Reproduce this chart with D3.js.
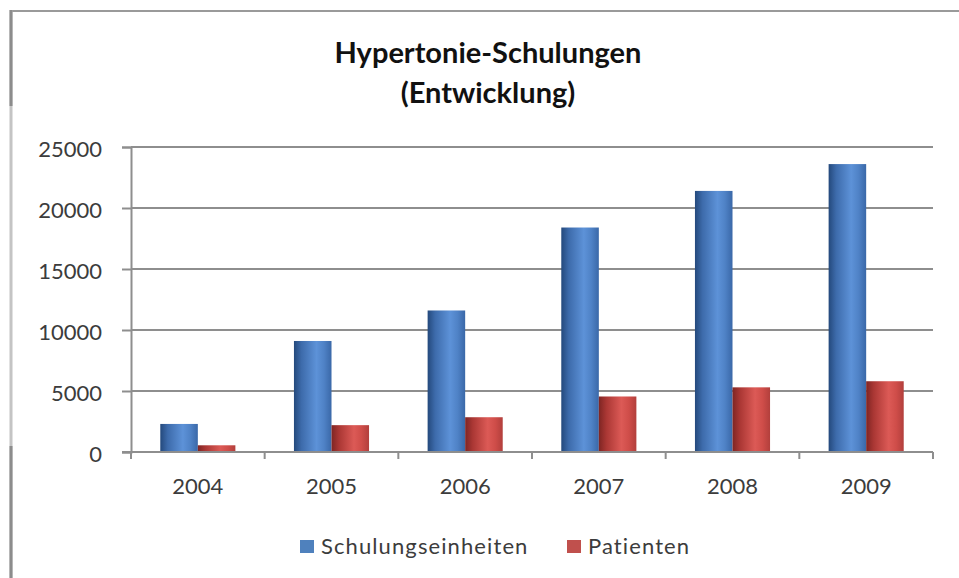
<!DOCTYPE html>
<html>
<head>
<meta charset="utf-8">
<script src="https://cdn.jsdelivr.net/npm/d3@7"></script>
<style>
  html, body { margin: 0; padding: 0; background: #fff; }
  svg { display: block; }
</style>
</head>
<body>
<div id="chart"></div>
<script>
const years = ['2004', '2005', '2006', '2007', '2008', '2009'];
const seriesNames = ['Schulungseinheiten', 'Patienten'];
const schulungseinheiten = [2300, 9100, 11600, 18400, 21400, 23600];
const patienten = [550, 2200, 2850, 4550, 5300, 5800];
const yTicks = [0, 5000, 10000, 15000, 20000, 25000];
const titleLines = ['Hypertonie-Schulungen', '(Entwicklung)'];

const width = 959, height = 578;
const plot = { left: 131, right: 933, top: 147, bottom: 452 };
const labelFont = 'Lato, "Open Sans", sans-serif';
const textColor = '#3c3c3c';

const svg = d3.select('#chart').append('svg')
  .attr('width', width)
  .attr('height', height);

// gradients for the 2007-style bars
const defs = svg.append('defs');
const gradStops = {
  blue: ['#24497c', '#3d6bab', '#5d92d8', '#4f82c6', '#3a68a8'],
  red: ['#7e2523', '#aa3734', '#dc5a56', '#cf4d49', '#b23f3c']
};
Object.keys(gradStops).forEach(k => {
  const g = defs.append('linearGradient')
    .attr('id', 'grad-' + k)
    .attr('x1', '0%').attr('x2', '100%')
    .attr('y1', '0%').attr('y2', '0%');
  const offs = [0, 0.2, 0.6, 0.8, 1];
  gradStops[k].forEach((c, i) => {
    g.append('stop').attr('offset', offs[i]).attr('stop-color', c);
  });
});

// outer frame (cropped screenshot border)
svg.append('line')
  .attr('x1', 10).attr('x2', width)
  .attr('y1', 11).attr('y2', 11)
  .attr('stroke', '#9a9a9a').attr('stroke-width', 2);
svg.append('line')
  .attr('x1', 11).attr('x2', 11)
  .attr('y1', 10).attr('y2', height)
  .attr('stroke', '#c4c4c4').attr('stroke-width', 3);
[[10, 106], [446, height]].forEach(seg => {
  svg.append('line')
    .attr('x1', 11).attr('x2', 11)
    .attr('y1', seg[0]).attr('y2', seg[1])
    .attr('stroke', '#8c8c8c').attr('stroke-width', 3);
});

// title
svg.append('g')
  .selectAll('text')
  .data(titleLines)
  .join('text')
  .attr('x', 488)
  .attr('y', (d, i) => 63 + i * 40)
  .attr('text-anchor', 'middle')
  .attr('fill', '#111')
  .style('font-family', labelFont)
  .style('font-weight', '700')
  .style('font-size', '29px')
  .text(d => d);

const x0 = d3.scaleBand()
  .domain(years)
  .range([plot.left, plot.right])
  .paddingInner(0)
  .paddingOuter(0);

const x1 = d3.scaleBand()
  .domain(seriesNames)
  .range([0, x0.bandwidth()])
  .paddingInner(0)
  .paddingOuter(0.78);

const y = d3.scaleLinear()
  .domain([0, 25000])
  .range([plot.bottom, plot.top]);

// gridlines
svg.append('g')
  .selectAll('line')
  .data(yTicks.filter(t => t > 0))
  .join('line')
  .attr('x1', plot.left)
  .attr('x2', plot.right)
  .attr('y1', d => y(d))
  .attr('y2', d => y(d))
  .attr('stroke', '#8e8e8e')
  .attr('stroke-width', 2);

// y axis
const yAxis = svg.append('g')
  .attr('transform', `translate(${plot.left},0)`)
  .call(d3.axisLeft(y).tickValues(yTicks).tickSize(9).tickPadding(20).tickFormat(d3.format('d')));
yAxis.select('.domain').attr('stroke', '#8e8e8e').attr('stroke-width', 2);
yAxis.selectAll('.tick line').attr('stroke', '#8e8e8e').attr('stroke-width', 2);
yAxis.selectAll('.tick text')
  .attr('fill', textColor)
  .attr('dy', '0.45em')
  .style('font-family', labelFont)
  .style('font-size', '22px');

// bars
const seriesData = [schulungseinheiten, patienten];
const seriesFill = ['url(#grad-blue)', 'url(#grad-red)'];
const groups = svg.append('g')
  .selectAll('g')
  .data(years)
  .join('g')
  .attr('transform', d => `translate(${x0(d)},0)`);

groups.selectAll('rect')
  .data((yr, i) => seriesNames.map((s, j) => ({ s, j, v: seriesData[j][i] })))
  .join('rect')
  .attr('x', d => x1(d.s))
  .attr('width', x1.bandwidth())
  .attr('y', d => y(d.v))
  .attr('height', d => y(0) - y(d.v))
  .attr('fill', d => seriesFill[d.j]);

// x axis
const xAxis = svg.append('g')
  .attr('transform', `translate(0,${plot.bottom})`);
xAxis.append('line')
  .attr('x1', plot.left - 9).attr('x2', plot.right)
  .attr('stroke', '#8e8e8e').attr('stroke-width', 2);
const bounds = years.map(d => x0(d)).concat([plot.right]);
xAxis.selectAll('.xtick')
  .data(bounds)
  .join('line')
  .attr('class', 'xtick')
  .attr('x1', d => d).attr('x2', d => d)
  .attr('y1', 0).attr('y2', 7)
  .attr('stroke', '#8e8e8e').attr('stroke-width', 2);
xAxis.selectAll('.xlabel')
  .data(years)
  .join('text')
  .attr('class', 'xlabel')
  .attr('x', d => x0(d) + x0.bandwidth() / 2)
  .attr('y', 42)
  .attr('text-anchor', 'middle')
  .attr('fill', textColor)
  .style('font-family', labelFont)
  .style('font-size', '22px')
  .text(d => d);

// legend
const legendItems = [
  { name: seriesNames[0], color: '#4f81bd', x: 300 },
  { name: seriesNames[1], color: '#c0504d', x: 567 }
];
const legend = svg.append('g')
  .selectAll('g')
  .data(legendItems)
  .join('g')
  .attr('transform', d => `translate(${d.x},540)`);
legend.append('rect')
  .attr('width', 14).attr('height', 13)
  .attr('fill', d => d.color);
legend.append('text')
  .attr('x', 21)
  .attr('y', 14)
  .attr('fill', textColor)
  .style('font-family', labelFont)
  .style('font-size', '22px')
  .style('letter-spacing', '1.1px')
  .text(d => d.name);
</script>
</body>
</html>
